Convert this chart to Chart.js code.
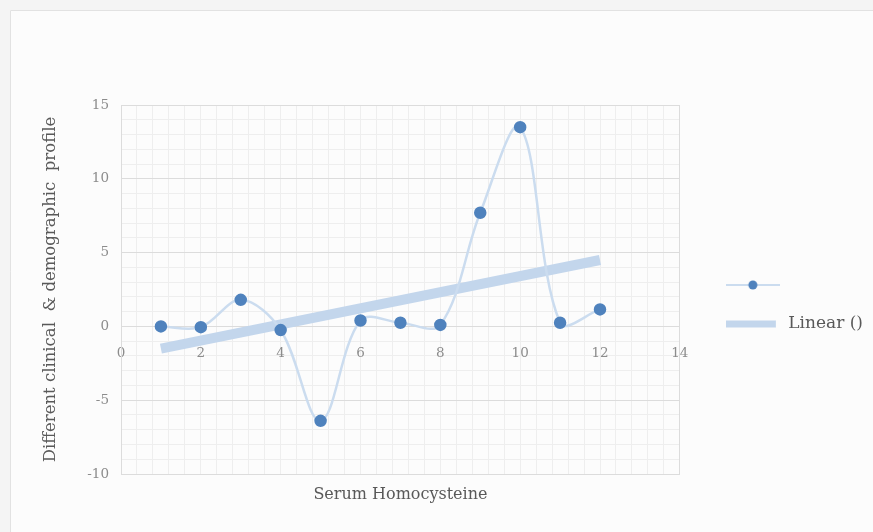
<!DOCTYPE html>
<html>
<head>
<meta charset="utf-8">
<script src="https://cdn.jsdelivr.net/npm/chart.js@4/dist/chart.umd.min.js"></script>
<style>
  html, body { margin: 0; padding: 0; background: #f6f6f6; }
  #wrap { width: 873px; height: 532px; position: relative; }
</style>
</head>
<body>
<div id="wrap"><canvas id="c" width="873" height="532"></canvas></div>
<script>
// ---- data ----
const xValues = [1, 2, 3, 4, 5, 6, 7, 8, 9, 10, 11, 12];
const yValues = [0.0, -0.05, 1.8, -0.25, -6.4, 0.4, 0.25, 0.1, 7.7, 13.5, 0.25, 1.15];
const trendX = [1, 12];
const trendY = [-1.5, 4.5];
const xTicks = [0, 2, 4, 6, 8, 10, 12, 14];
const yTicks = [-10, -5, 0, 5, 10, 15];
const seriesLabel = "";
const trendLabel = "Linear ()";
const xTitle = "Serum Homocysteine";
const yTitle = "Different clinical  & demographic  profile";

const pointColor = "#4f82bd";
const lineColor = "#cbdcef";
const trendColor = "#c3d6ec";
const FONT = "'DejaVu Serif', 'Liberation Serif', serif";

function legendCanvas(kind) {
  const cv = document.createElement('canvas');
  cv.width = 54; cv.height = 14;
  const g = cv.getContext('2d');
  if (kind === 'series') {
    g.strokeStyle = lineColor; g.lineWidth = 2;
    g.beginPath(); g.moveTo(0, 7); g.lineTo(54, 7); g.stroke();
    g.fillStyle = pointColor;
    g.beginPath(); g.arc(27, 7, 4.5, 0, Math.PI * 2); g.fill();
  } else {
    g.strokeStyle = trendColor; g.lineWidth = 7;
    g.beginPath(); g.moveTo(0, 7); g.lineTo(50, 7); g.stroke();
  }
  return cv;
}

const bgPlugin = {
  id: 'bg',
  beforeDraw(chart) {
    const ctx = chart.ctx;
    ctx.save();
    ctx.fillStyle = '#f4f4f4';
    ctx.fillRect(0, 0, chart.width, chart.height);
    ctx.fillStyle = '#fcfcfc';
    ctx.fillRect(10, 10, chart.width - 10, chart.height - 10);
    ctx.strokeStyle = '#e2e2e2';
    ctx.lineWidth = 1;
    ctx.beginPath();
    ctx.moveTo(10.5, chart.height); ctx.lineTo(10.5, 10.5); ctx.lineTo(chart.width, 10.5);
    ctx.stroke();
    ctx.restore();
  }
};

const seriesData = xValues.map((x, i) => ({ x: x, y: yValues[i] }));
const trendData = trendX.map((x, i) => ({ x: x, y: trendY[i] }));

new Chart(document.getElementById('c'), {
  type: 'scatter',
  data: {
    datasets: [
      {
        label: seriesLabel,
        data: seriesData,
        showLine: true,
        tension: 0.35,
        borderColor: lineColor,
        borderWidth: 2.5,
        pointBackgroundColor: pointColor,
        pointBorderColor: pointColor,
        pointRadius: 5,
        order: 1
      },
      {
        label: trendLabel,
        data: trendData,
        showLine: true,
        borderColor: trendColor,
        borderWidth: 10,
        pointRadius: 0,
        order: 2
      }
    ]
  },
  options: {
    responsive: false,
    animation: false,
    layout: { padding: { left: 37, top: 105, right: 0, bottom: 28 } },
    plugins: {
      tooltip: { enabled: false },
      legend: {
        position: 'right',
        align: 'center',
        maxWidth: 220,
        labels: {
          usePointStyle: true,
          pointStyleWidth: 54,
          color: '#595959',
          font: { family: FONT, size: 17 },
          padding: 22,
          generateLabels(chart) {
            return chart.data.datasets.map((ds, i) => ({
              text: ds.label,
              pointStyle: legendCanvas(i === 0 ? 'series' : 'trend'),
              datasetIndex: i,
              hidden: false,
              fontColor: '#595959',
              lineWidth: 0
            }));
          }
        }
      }
    },
    scales: {
      x: {
        type: 'linear',
        min: 0, max: 14,
        position: { y: 0 },
        afterBuildTicks(scale) { scale.ticks = xTicks.map(v => ({ value: v })); },
        ticks: { color: '#8c8c8c', font: { family: FONT, size: 13.5 }, padding: 19 },
        grid: { color: '#dcdcdc', drawTicks: false },
        border: { display: false }
      },
      xm: {
        type: 'linear',
        min: 0, max: 14,
        position: 'bottom',
        display: true,
        ticks: { display: false },
        afterBuildTicks(scale) {
          const t = [];
          for (let i = 0; i <= 35; i++) t.push({ value: +(i * 0.4).toFixed(2) });
          scale.ticks = t;
        },
        grid: { color: '#eeeeee', drawTicks: false },
        border: { display: true, color: '#dcdcdc' },
        title: { display: true, text: xTitle, color: '#595959', font: { family: FONT, size: 16 }, padding: { top: 4, bottom: 0 } },
        afterFit(scale) { scale.height = 30; }
      },
      y: {
        type: 'linear',
        min: -10, max: 15,
        afterBuildTicks(scale) { scale.ticks = yTicks.map(v => ({ value: v })); },
        ticks: { color: '#8c8c8c', font: { family: FONT, size: 13.5 }, padding: 12 },
        grid: { color: '#dcdcdc', drawTicks: false, z: 0 },
        border: { display: true, color: '#dcdcdc' },
        title: { display: true, text: yTitle, color: '#595959', font: { family: FONT, size: 16.5 }, padding: { top: 4, bottom: 4 } },
        afterFit(scale) { scale.width = 84; }
      },
      ym: {
        type: 'linear',
        min: -10, max: 15,
        position: 'right',
        display: true,
        ticks: { display: false },
        afterBuildTicks(scale) {
          const t = [];
          for (let v = -10; v <= 15; v++) t.push({ value: v });
          scale.ticks = t;
        },
        grid: { color: '#eeeeee', drawTicks: false },
        border: { display: true, color: '#dcdcdc' },
        afterFit(scale) { scale.width = 24; }
      }
    }
  },
  plugins: [bgPlugin]
});
</script>
</body>
</html>
